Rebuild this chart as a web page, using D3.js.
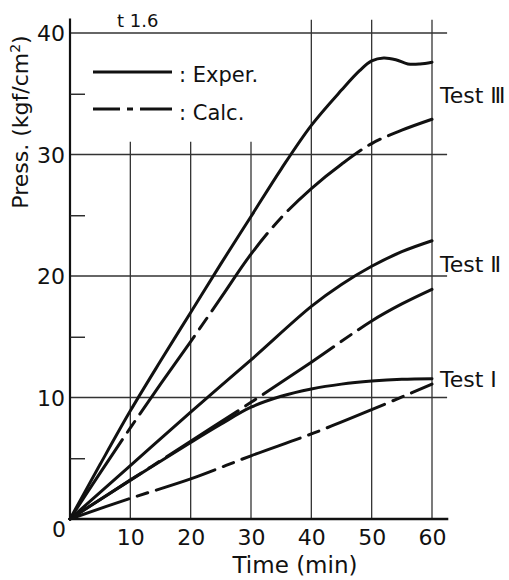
<!DOCTYPE html>
<html><head><meta charset="utf-8">
<script src="https://cdn.jsdelivr.net/npm/d3@7"></script>
<style>body{margin:0;background:#fff} svg{display:block}</style>
</head><body>
<svg id="c" width="509" height="580"></svg>
<script>
// ---- data ----
const xTicks = [10, 20, 30, 40, 50, 60];
const yTicks = [10, 20, 30, 40];
const yMinor = [5, 15, 25, 35];
const shortGridX = [10, 20, 30];
const tallGridX = [40, 50, 60];
const test3Exp = [[0,0],[5,4.5],[10,8.9],[15,13.0],[20,17.0],[25,21.0],[30,24.9],[35,28.8],[40,32.4],[45,35.3],[48,36.9],[50,37.7],[52,37.95],[54,37.8],[56,37.45],[58,37.45],[60,37.6]];
const test3Calc = [[0,0],[5,3.8],[10,7.5],[15,11.1],[20,14.6],[25,18.2],[30,21.8],[35,24.8],[40,27.2],[45,29.2],[50,30.9],[55,32.0],[60,32.9]];
const test2Exp = [[0,0],[10,4.4],[20,8.8],[30,13.1],[40,17.5],[45,19.3],[50,20.8],[55,22.0],[60,22.9]];
const test2Calc = [[0,0],[10,3.2],[20,6.4],[30,9.6],[40,12.9],[50,16.3],[55,17.7],[60,18.9]];
const test1Exp = [[0,0],[10,3.2],[20,6.3],[25,7.8],[30,9.2],[35,10.1],[40,10.7],[45,11.1],[50,11.35],[55,11.5],[60,11.55]];
const test1Calc = [[0,0],[10,1.7],[20,3.3],[30,5.2],[40,7.0],[50,9.0],[60,11.1]];
const testLabels = ["Test Ⅲ", "Test Ⅱ", "Test I"];
const testLabelY = [103, 272, 387];

// ---- layout ----
const svg = d3.select("#c");
const x = d3.scaleLinear().domain([0, 60]).range([70, 432]);
const y = d3.scaleLinear().domain([0, 40]).range([519, 33]);
const font = "'DejaVu Sans', sans-serif";
const ink = "#111";

// grid
const g = svg.append("g").attr("stroke", "#333").attr("stroke-width", 1.3);
yTicks.forEach(v => g.append("line").attr("x1", x(0)).attr("x2", x(62.5)).attr("y1", y(v)).attr("y2", y(v)));
shortGridX.forEach(v => g.append("line").attr("x1", x(v)).attr("x2", x(v)).attr("y1", y(0)).attr("y2", y(31.05)));
tallGridX.forEach(v => g.append("line").attr("x1", x(v)).attr("x2", x(v)).attr("y1", y(0)).attr("y2", y(41.1)));

// axes lines
svg.append("line").attr("x1", x(0)).attr("x2", x(0)).attr("y1", y(0)).attr("y2", y(41.2))
  .attr("stroke", ink).attr("stroke-width", 2.2);
svg.append("line").attr("x1", x(0)).attr("x2", x(62.7)).attr("y1", y(0)).attr("y2", y(0))
  .attr("stroke", ink).attr("stroke-width", 2.4);

// minor ticks
const minor = svg.append("g").attr("transform", `translate(${x(0)},0)`)
  .call(d3.axisRight(y).tickValues(yMinor).tickSize(15).tickFormat(""));
minor.select(".domain").remove();
minor.selectAll("line").attr("stroke", "#222").attr("stroke-width", 1.4);

// y tick labels
const ya = svg.append("g").attr("transform", `translate(${x(0)},0)`)
  .call(d3.axisLeft(y).tickValues(yTicks).tickSize(0).tickPadding(5));
ya.select(".domain").remove();
ya.selectAll("text").attr("font-family", font).attr("font-size", 22).attr("fill", ink).attr("dy", "0.36em");

// x tick labels
const xa = svg.append("g").attr("transform", `translate(0,${y(0)})`)
  .call(d3.axisBottom(x).tickValues(xTicks).tickSize(0).tickPadding(10));
xa.select(".domain").remove();
xa.selectAll("text").attr("font-family", font).attr("font-size", 22).attr("fill", ink);

svg.append("text").attr("x", 66).attr("y", 537).attr("text-anchor", "end")
  .attr("font-family", font).attr("font-size", 22).attr("fill", ink).text("0");

// curves
const line = d3.line().x(d => x(d[0])).y(d => y(d[1])).curve(d3.curveCatmullRom.alpha(0.5));
const curves = [
  [test3Exp, null], [test3Calc, "95,9,13,9"],
  [test2Exp, null], [test2Calc, "85,9,12,9"],
  [test1Exp, null], [test1Calc, "62,9,11,9"]
];
curves.forEach(([d, dash]) => {
  const p = svg.append("path").attr("d", line(d)).attr("fill", "none")
    .attr("stroke", ink).attr("stroke-width", 3).attr("stroke-linecap", "round");
  if (dash) p.attr("stroke-dasharray", dash);
});

// test labels
testLabels.forEach((t, i) => {
  svg.append("text").attr("x", 440).attr("y", testLabelY[i])
    .attr("font-family", font).attr("font-size", 22).attr("fill", ink).text(t);
});

// legend
svg.append("line").attr("x1", 93).attr("x2", 172).attr("y1", 72).attr("y2", 72)
  .attr("stroke", ink).attr("stroke-width", 2.8);
svg.append("line").attr("x1", 93).attr("x2", 172).attr("y1", 109).attr("y2", 109)
  .attr("stroke", ink).attr("stroke-width", 2.8).attr("stroke-dasharray", "27,7,6,7,32");
svg.append("text").attr("x", 179).attr("y", 82).attr("font-family", font).attr("font-size", 21)
  .attr("fill", ink).text(": Exper.");
svg.append("text").attr("x", 179).attr("y", 120).attr("font-family", font).attr("font-size", 21)
  .attr("fill", ink).text(": Calc.");

// t 1.6
svg.append("text").attr("x", 117).attr("y", 27).attr("font-family", font).attr("font-size", 18)
  .attr("fill", ink).text("t 1.6");

// axis titles
svg.append("text").attr("x", 295).attr("y", 573).attr("text-anchor", "middle")
  .attr("font-family", font).attr("font-size", 23).attr("fill", ink).text("Time (min)");
const yt = svg.append("text").attr("transform", "translate(28,122) rotate(-90)").attr("text-anchor", "middle")
  .attr("font-family", font).attr("font-size", 22).attr("fill", ink);
yt.append("tspan").text("Press. (kgf/cm");
yt.append("tspan").attr("font-size", 14).attr("dy", -8).text("2");
yt.append("tspan").attr("dy", 8).text(")");
</script>
</body></html>
